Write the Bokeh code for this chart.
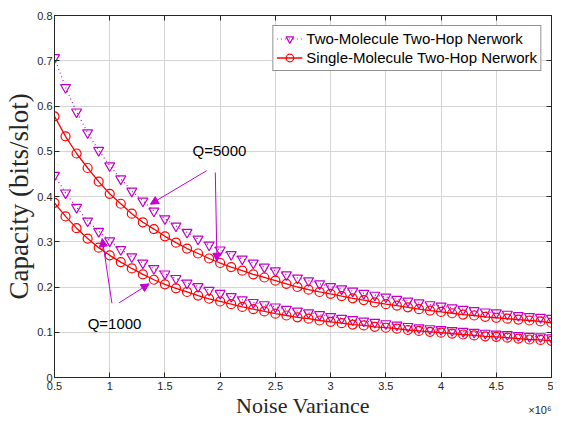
from bokeh.plotting import figure
from bokeh.models import (Range1d, FixedTicker, LinearAxis, Arrow, NormalHead,
                          Label, Legend, LegendItem)
from bokeh.embed import file_html
from bokeh.resources import INLINE

# Noise variance (x 10^6)
noise = [0.5, 0.6, 0.7, 0.8, 0.9, 1.0, 1.1, 1.2, 1.3, 1.4, 1.5, 1.6, 1.7, 1.8, 1.9,
         2.0, 2.1, 2.2, 2.3, 2.4, 2.5, 2.6, 2.7, 2.8, 2.9, 3.0, 3.1, 3.2, 3.3, 3.4,
         3.5, 3.6, 3.7, 3.8, 3.9, 4.0, 4.1, 4.2, 4.3, 4.4, 4.5, 4.6, 4.7, 4.8, 4.9, 5.0]

two_q5000 = [0.707, 0.641, 0.587, 0.541, 0.502, 0.468, 0.439, 0.412, 0.390, 0.368,
             0.351, 0.335, 0.321, 0.306, 0.293, 0.282, 0.272, 0.262, 0.253, 0.244,
             0.236, 0.227, 0.220, 0.214, 0.207, 0.201, 0.196, 0.191, 0.186, 0.182,
             0.178, 0.173, 0.169, 0.165, 0.161, 0.158, 0.154, 0.151, 0.148, 0.145,
             0.143, 0.140, 0.137, 0.135, 0.133, 0.131]
single_q5000 = [0.577, 0.533, 0.495, 0.463, 0.433, 0.406, 0.384, 0.362, 0.343, 0.328,
                0.312, 0.298, 0.285, 0.274, 0.263, 0.253, 0.244, 0.236, 0.228, 0.221,
                0.214, 0.207, 0.200, 0.194, 0.189, 0.185, 0.180, 0.175, 0.171, 0.166,
                0.162, 0.159, 0.155, 0.151, 0.148, 0.145, 0.142, 0.139, 0.137, 0.134,
                0.132, 0.130, 0.128, 0.126, 0.124, 0.121]
two_q1000 = [0.447, 0.408, 0.376, 0.346, 0.323, 0.302, 0.283, 0.267, 0.253, 0.241,
             0.229, 0.219, 0.209, 0.201, 0.193, 0.186, 0.179, 0.172, 0.166, 0.161,
             0.156, 0.151, 0.147, 0.143, 0.139, 0.135, 0.131, 0.128, 0.125, 0.122,
             0.119, 0.116, 0.113, 0.110, 0.108, 0.106, 0.104, 0.102, 0.100, 0.098,
             0.096, 0.095, 0.093, 0.091, 0.090, 0.088]
single_q1000 = [0.386, 0.356, 0.330, 0.307, 0.287, 0.270, 0.255, 0.241, 0.228, 0.216,
                0.206, 0.197, 0.189, 0.181, 0.174, 0.168, 0.162, 0.156, 0.151, 0.146,
                0.141, 0.137, 0.133, 0.130, 0.126, 0.123, 0.120, 0.117, 0.115, 0.112,
                0.110, 0.108, 0.105, 0.103, 0.101, 0.099, 0.097, 0.095, 0.093, 0.091,
                0.090, 0.088, 0.086, 0.084, 0.083, 0.081]

x_ticks = [0.5, 1, 1.5, 2, 2.5, 3, 3.5, 4, 4.5, 5]
x_tick_labels = ["0.5", "1", "1.5", "2", "2.5", "3", "3.5", "4", "4.5", "5"]
y_ticks = [0, 0.1, 0.2, 0.3, 0.4, 0.5, 0.6, 0.7, 0.8]
y_tick_labels = ["0", "0.1", "0.2", "0.3", "0.4", "0.5", "0.6", "0.7", "0.8"]

legend_labels = ["Two-Molecule Two-Hop Nerwork", "Single-Molecule Two-Hop Nerwork"]

MAG = "#C000C8"
RED = "#FF0000"
TXT = "#262626"
GRID = "#d4d4d4"

p = figure(width=553, height=420, output_backend="svg", toolbar_location=None,
           x_range=Range1d(x_ticks[0], x_ticks[-1]), y_range=Range1d(y_ticks[0], y_ticks[-1]),
           min_border_left=54, min_border_right=2, min_border_top=15, min_border_bottom=0)
p.background_fill_color = "white"
p.outline_line_color = TXT
p.outline_line_width = 1

def style_axis(ax, ticks, labels):
    ax.ticker = FixedTicker(ticks=ticks)
    ax.major_label_overrides = {t: l for t, l in zip(ticks, labels)}
    ax.major_tick_in = 5
    ax.major_tick_out = 0
    ax.minor_tick_line_color = None
    ax.axis_line_color = TXT
    ax.major_tick_line_color = TXT
    ax.major_label_text_font = "Liberation Sans"
    ax.major_label_text_font_size = "11px"
    ax.major_label_text_color = TXT
    ax.axis_label_text_font = "Liberation Serif"
    ax.axis_label_text_font_size = "22px"
    ax.axis_label_text_font_style = "normal"
    ax.axis_label_text_color = TXT

style_axis(p.xaxis[0], x_ticks, x_tick_labels)
style_axis(p.yaxis[0], y_ticks, y_tick_labels)
p.xaxis[0].axis_label = "Noise Variance"
p.yaxis[0].axis_label = "Capacity (bits/slot)"
p.yaxis[0].axis_label_text_font_size = "27px"
p.xaxis[0].major_label_standoff = 4
p.xaxis[0].axis_label_standoff = 0
p.yaxis[0].major_label_standoff = 2
p.yaxis[0].axis_label_standoff = 0

for loc, ticks in (("right", y_ticks), ("above", x_ticks)):
    ax = LinearAxis()
    style_axis(ax, ticks, ["" for _ in ticks])
    ax.major_label_text_font_size = "0px"
    ax.major_label_standoff = 0
    ax.axis_label_standoff = 0
    p.add_layout(ax, loc)

# grid lines at the tick positions (Bokeh grid, following the fixed tickers)
p.grid.grid_line_color = GRID
p.grid.grid_line_alpha = 1.0
p.grid.grid_line_width = 1

l1 = p.line(noise, two_q5000, line_color=MAG, line_width=1.2, line_dash="1 3")
m1 = p.scatter(noise, two_q5000, marker="inverted_triangle", size=10,
               line_color=MAG, fill_color=None, line_width=1.2)
l2 = p.line(noise, two_q1000, line_color=MAG, line_width=1.2, line_dash="1 3")
m2 = p.scatter(noise, two_q1000, marker="inverted_triangle", size=10,
               line_color=MAG, fill_color=None, line_width=1.2)
l3 = p.line(noise, single_q5000, line_color=RED, line_width=1.3)
m3 = p.scatter(noise, single_q5000, marker="circle", size=9,
               line_color=RED, fill_color=None, line_width=1.2)
l4 = p.line(noise, single_q1000, line_color=RED, line_width=1.3)
m4 = p.scatter(noise, single_q1000, marker="circle", size=9,
               line_color=RED, fill_color=None, line_width=1.2)

legend = Legend(items=[LegendItem(label=legend_labels[0], renderers=[l1, m1]),
                       LegendItem(label=legend_labels[1], renderers=[l3, m3])],
                location="top_right")
legend.label_text_font = "Liberation Sans"
legend.label_text_font_size = "15px"
legend.label_text_color = "black"
legend.border_line_color = TXT
legend.border_line_width = 1
legend.margin = 10
legend.padding = 3
legend.spacing = 0
legend.label_height = 19
legend.glyph_height = 19
legend.glyph_width = 26
legend.label_standoff = 4
legend.background_fill_alpha = 1
p.add_layout(legend)

# annotations
ARR = "#C400D4"
arrows = [
    (1.877, 0.457, 1.368, 0.383),
    (1.956, 0.453, 1.971, 0.257),
    (1.020, 0.164, 0.932, 0.307),
    (1.085, 0.165, 1.357, 0.207),
]
for xs, ys, xe, ye in arrows:
    p.add_layout(Arrow(x_start=xs, y_start=ys, x_end=xe, y_end=ye,
                       line_color=ARR, line_width=1,
                       end=NormalHead(size=8, fill_color=ARR, line_color=ARR, line_width=1)))

p.add_layout(Label(x=1.75, y=0.501, text="Q=5000", text_font="Liberation Sans",
                   text_font_size="15px", text_color="black", text_baseline="middle"))
p.add_layout(Label(x=0.80, y=0.120, text="Q=1000", text_font="Liberation Sans",
                   text_font_size="15px", text_color="black", text_baseline="middle"))
# exponent label: kept in a side panel so it is not clipped to the frame
p.add_layout(Label(x=5.0, y=-0.072, x_units="data", y_units="data", text="×10⁶",
                   text_font="Liberation Sans", text_font_size="11px", text_color=TXT,
                   text_align="right", text_baseline="middle"), "above")

open("out.html", "w").write(file_html(p, INLINE))
